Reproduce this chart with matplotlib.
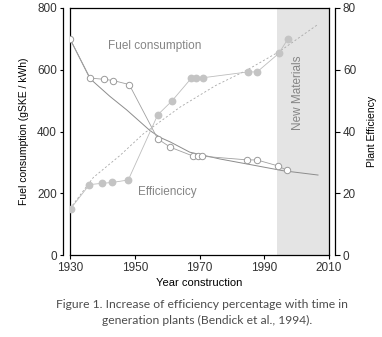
import matplotlib
matplotlib.use("Agg")
import matplotlib.pyplot as plt
from matplotlib.lines import Line2D

plt.rcParams['font.family'] = ['Liberation Sans', 'DejaVu Sans']

# fuel consumption (gSKE / kWh), open circles
fuel_years = [1930, 1936.2, 1940.6, 1943.4, 1948.3, 1957.1, 1961.0, 1968.1, 1969.6, 1970.8,
              1984.8, 1987.7, 1994.1, 1996.9]
fuel = [700, 573, 569, 565, 552, 376, 349, 320, 320, 320, 308, 308, 289, 275]

# fitted decay curve for fuel consumption
fuel_fit_years = [1930, 1936.2, 1942.3, 1947.5, 1954.7, 1957.8, 1961, 1967, 1976.3,
                  1985.6, 1995.8, 2006.6]
fuel_fit = [700, 571, 514, 470, 403, 381, 366, 333, 311, 293, 273, 259]

# plant efficiency (%), filled circles
eff_years = [1930.2, 1936.0, 1939.8, 1943.1, 1948.0, 1957.1, 1961.5, 1967.5, 1969.0, 1971.0,
             1985.0, 1987.8, 1994.5, 1997.2]
eff = [15, 22.8, 23.2, 23.5, 24.3, 45.4, 49.9, 57.3, 57.3, 57.4, 59.3, 59.3, 65.3, 69.8]

# dashed efficiency trend
eff_fit_years = [1930, 1937.2, 1945.4, 1952.6, 1964, 1975, 1984.5, 1994.8, 2006.6]
eff_fit = [15, 25.1, 32.2, 39.2, 47.9, 54.9, 59.8, 66.0, 74.7]

new_materials = (1994, 2010)

fig = plt.figure(figsize=(3.82, 3.37), dpi=100)
ax = fig.add_axes([70 / 382, 1 - 255 / 337, 259 / 382, 247 / 337])
ax2 = ax.twinx()

ax.axvspan(*new_materials, color='#e4e4e4', lw=0, zorder=0)

ax.plot(fuel_fit_years, fuel_fit, color='#8c8c8c', lw=0.7, zorder=2)
ax.plot(fuel_years, fuel, color='#a0a0a0', lw=0.6, marker='o', ms=4.6,
        mfc='white', mec='#9a9a9a', mew=0.7, zorder=3)

ax2.plot(eff_fit_years, eff_fit, color='#a8a8a8', lw=0.6, ls=(0, (2.5, 2.5)), zorder=2)
ax2.plot(eff_years, eff, color='#bdbdbd', lw=0.6, marker='o', ms=4.6,
         mfc='#c4c4c4', mec='#c4c4c4', zorder=3)

ax.set_xlim(1930, 2010)
ax.set_ylim(0, 800)
ax2.set_ylim(0, 80)

ax.set_xticks([1930, 1950, 1970, 1990, 2010])
ax.set_yticks([0, 200, 400, 600, 800])
ax2.set_yticks([0, 20, 40, 60, 80])

tick_font = dict(labelsize=8.5, labelcolor='#333333', color='black', width=0.8)
ax.tick_params(axis='x', direction='out', length=3, pad=2, **tick_font)
ax.tick_params(axis='y', direction='out', length=2.5, pad=2, **tick_font)
ax2.tick_params(axis='y', direction='out', length=3.5, pad=2, **tick_font)

for sp in ax.spines.values():
    sp.set_linewidth(0.9)
ax.spines['left'].set_position(('outward', 5))
ax.spines['left'].set_bounds(0, 800)
# frame line where the left spine used to be
ax.add_line(Line2D([0, 0], [0, 1], transform=ax.transAxes, color='black', lw=0.9,
                   clip_on=False))

for name in ['left', 'top', 'bottom']:
    ax2.spines[name].set_visible(False)
ax2.spines['right'].set_position(('outward', 4.5))
ax2.spines['right'].set_linewidth(0.9)

ax.set_ylabel('Fuel consumption (gSKE / kWh)', fontsize=7.5, labelpad=6)
ax2.set_ylabel('Plant Efficiency', fontsize=7.5, labelpad=8)
ax.set_xlabel('Year construction', fontsize=8, labelpad=3)

ax.text(1941.7, 676, 'Fuel consumption', fontsize=8.5, color='#858585', va='center')
ax.text(1951, 205, 'Efficiencicy', fontsize=8.5, color='#858585', va='center')
ax.text(2000.4, 527, 'New Materials', fontsize=8.5, color='#858585', va='center',
        ha='center', rotation=90)

cap_font = dict(fontsize=8.7, color='#4d4d4d', ha='center', va='center',
                family=['Lato', 'DejaVu Sans'])
fig.text(202 / 382, 1 - 304 / 337, 'Figure 1. Increase of efficiency percentage with time in',
         **cap_font)
fig.text(207 / 382, 1 - 320 / 337, 'generation plants (Bendick et al., 1994).', **cap_font)

fig.savefig('out.png', dpi=100)
